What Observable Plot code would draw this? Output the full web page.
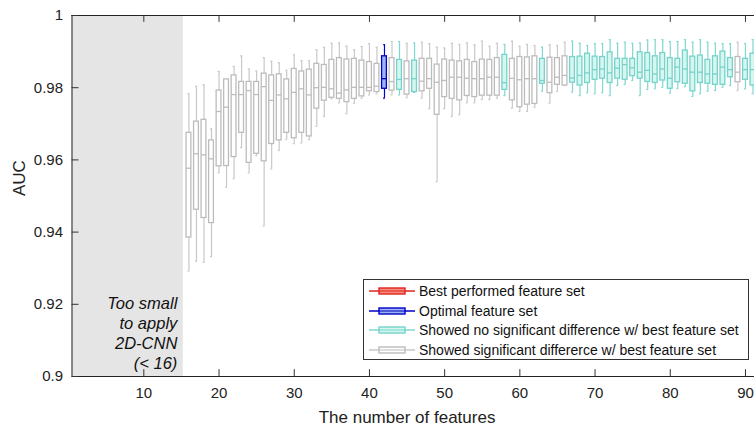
<!DOCTYPE html>
<html>
<head>
<meta charset="utf-8">
<script src="https://cdn.jsdelivr.net/npm/d3@7"></script>
<script src="https://cdn.jsdelivr.net/npm/@observablehq/plot@0.6"></script>
<style>
  body { margin: 0; background: #fff; }
  #wrap { position: relative; width: 754px; height: 425px; overflow: hidden; font-family: "Liberation Sans", Arial, Helvetica, sans-serif; }
  #legend { position: absolute; left: 363px; top: 279px; width: 386px; height: 81px; border: 1px solid #333; background: #fff; box-sizing: border-box; }
  .row { position: absolute; left: 4px; height: 20px; display: flex; align-items: center; font-size: 14px; color: #111; white-space: nowrap; }
  .row svg { margin-right: 3px; }
</style>
</head>
<body>
<div id="wrap"></div>
<script>
const features = [16,17,18,19,20,21,22,23,24,25,26,27,28,29,30,31,32,33,34,35,36,37,38,39,40,41,42,43,44,45,46,47,48,49,50,51,52,53,54,55,56,57,58,59,60,61,62,63,64,65,66,67,68,69,70,71,72,73,74,75,76,77,78,79,80,81,82,83,84,85,86,87,88,89,90,91];
const whiskerHigh = [0.9783,0.9804,0.9808,0.9686,0.9845,0.9823,0.9859,0.9888,0.9852,0.9846,0.9883,0.9873,0.9869,0.9848,0.9891,0.9875,0.9875,0.9905,0.9912,0.9923,0.9924,0.9915,0.9905,0.9914,0.9922,0.9912,0.9919,0.9928,0.9928,0.9923,0.9924,0.9926,0.9922,0.9912,0.9910,0.9923,0.9920,0.9924,0.9919,0.9929,0.9915,0.9923,0.9920,0.9929,0.9915,0.9920,0.9917,0.9912,0.9919,0.9917,0.9926,0.9929,0.9923,0.9917,0.9922,0.9922,0.9933,0.9923,0.9926,0.9923,0.9924,0.9932,0.9933,0.9933,0.9928,0.9928,0.9933,0.9926,0.9933,0.9926,0.9923,0.9922,0.9922,0.9926,0.9922,0.9933];
const quartile3 = [0.9675,0.9706,0.9711,0.9654,0.9792,0.9823,0.9834,0.9816,0.9816,0.9816,0.9839,0.9834,0.9837,0.9823,0.9852,0.9845,0.9850,0.9866,0.9863,0.9877,0.9882,0.9878,0.9880,0.9875,0.9871,0.9866,0.9887,0.9882,0.9877,0.9873,0.9875,0.9880,0.9880,0.9864,0.9878,0.9875,0.9873,0.9877,0.9871,0.9878,0.9877,0.9882,0.9891,0.9880,0.9885,0.9884,0.9887,0.9880,0.9883,0.9882,0.9887,0.9885,0.9886,0.9894,0.9886,0.9885,0.9898,0.9880,0.9880,0.9880,0.9898,0.9896,0.9887,0.9896,0.9882,0.9880,0.9903,0.9886,0.9889,0.9877,0.9887,0.9900,0.9882,0.9885,0.9880,0.9894];
const medians = [0.9577,0.9617,0.9614,0.9603,0.9734,0.9746,0.9781,0.9781,0.9792,0.9781,0.9803,0.9765,0.9780,0.9769,0.9787,0.9797,0.9780,0.9800,0.9801,0.9797,0.9785,0.9794,0.9801,0.9801,0.9801,0.9804,0.9825,0.9817,0.9823,0.9825,0.9825,0.9818,0.9825,0.9815,0.9820,0.9829,0.9829,0.9826,0.9825,0.9825,0.9829,0.9829,0.9814,0.9826,0.9822,0.9825,0.9825,0.9820,0.9815,0.9829,0.9834,0.9827,0.9834,0.9841,0.9850,0.9852,0.9841,0.9854,0.9864,0.9855,0.9843,0.9848,0.9838,0.9852,0.9826,0.9857,0.9852,0.9843,0.9843,0.9838,0.9838,0.9857,0.9850,0.9843,0.9850,0.9850];
const quartile1 = [0.9385,0.9462,0.9439,0.9425,0.9582,0.9583,0.9608,0.9675,0.9592,0.9617,0.9596,0.9644,0.9654,0.9675,0.9660,0.9675,0.9665,0.9742,0.9764,0.9772,0.9769,0.9760,0.9769,0.9776,0.9790,0.9788,0.9797,0.9792,0.9794,0.9781,0.9788,0.9790,0.9797,0.9725,0.9774,0.9769,0.9765,0.9777,0.9774,0.9778,0.9778,0.9778,0.9794,0.9765,0.9746,0.9753,0.9755,0.9811,0.9785,0.9808,0.9806,0.9814,0.9806,0.9813,0.9822,0.9825,0.9813,0.9825,0.9822,0.9832,0.9825,0.9816,0.9813,0.9820,0.9797,0.9815,0.9811,0.9790,0.9813,0.9811,0.9808,0.9808,0.9829,0.9815,0.9822,0.9806];
const whiskerLow = [0.9292,0.9319,0.9316,0.9332,0.9564,0.9524,0.9548,0.9634,0.9564,0.9612,0.9417,0.9575,0.9626,0.9657,0.9645,0.9647,0.9656,0.9693,0.9720,0.9769,0.9758,0.9728,0.9757,0.9771,0.9780,0.9783,0.9771,0.9780,0.9780,0.9772,0.9787,0.9771,0.9742,0.9540,0.9742,0.9720,0.9725,0.9758,0.9758,0.9767,0.9767,0.9771,0.9778,0.9743,0.9734,0.9734,0.9746,0.9790,0.9757,0.9790,0.9806,0.9788,0.9778,0.9786,0.9783,0.9786,0.9778,0.9806,0.9809,0.9820,0.9778,0.9795,0.9797,0.9801,0.9785,0.9797,0.9803,0.9776,0.9783,0.9790,0.9792,0.9801,0.9806,0.9792,0.9797,0.9783];
const optimalFeatures = [42];
const noSigFeatures = [44,46,58,63,67,68,69,70,71,72,73,74,75,76,77,78,79,80,81,82,83,84,85,86,87,88,90,91];
const xTicks = [10,20,30,40,50,60,70,80,90];
const yTicks = [0.9,0.92,0.94,0.96,0.98,1];
const yTickLabels = ["0.9","0.92","0.94","0.96","0.98","1"];
const shadedRange = [0.45, 15.25];
const noteText = ["Too small","to apply","2D-CNN","(< 16)"];
const legendLabels = ["Best performed feature set","Optimal feature set","Showed no significant difference w/ best feature set","Showed significant differerce w/ best feature set"];

const styles = {
  best:  {stroke: "#e2231a", fill: "#f48a80", whisker: "#e2231a"},
  opt:   {stroke: "#0000c8", fill: "#9db4f0", whisker: "#0000c8"},
  nosig: {stroke: "#74d3ca", fill: "#d6f7f0", whisker: "#7fd8cf"},
  sig:   {stroke: "#bcbcbc", fill: "#ffffff", whisker: "#c8c8c8"}
};

const data = features.map((f, i) => ({
  x: f,
  lo: whiskerLow[i], q1: quartile1[i], med: medians[i], q3: quartile3[i], hi: whiskerHigh[i],
  group: optimalFeatures.includes(f) ? "opt" : noSigFeatures.includes(f) ? "nosig" : "sig"
}));

const halfBox = 0.32, halfCap = 0.13;
const xDomain = [0.45, 91.2], yDomain = [0.9, 1];
const tickLenY = 0.0019;   // inward tick length along y (about 7 px)
const tickLenX = 0.93;     // inward tick length along x (about 7 px)
const font = "'Liberation Sans', Arial, Helvetica, sans-serif";

const chart = Plot.plot({
  width: 754,
  height: 425,
  marginLeft: 71.5,
  marginRight: 0,
  marginTop: 15,
  marginBottom: 49,
  x: {domain: xDomain},
  y: {domain: yDomain},
  style: {fontFamily: font, fontSize: "15px", background: "#fff", color: "#222"},
  marks: [
    Plot.rect([shadedRange], {x1: d => d[0], x2: d => d[1], y1: yDomain[0], y2: yDomain[1], fill: "#e5e5e5"}),
    Plot.text([noteText.join("\n")], {x: shadedRange[1], y: yDomain[0], text: d => d, textAnchor: "end", lineAnchor: "bottom", lineHeight: 1.21, dx: -6, dy: -8, fontStyle: "italic", fontSize: 16.5, fill: "#111"}),
    Plot.ruleX(data, {x: "x", y1: "lo", y2: "q1", stroke: d => styles[d.group].whisker, strokeWidth: 1.2}),
    Plot.ruleX(data, {x: "x", y1: "q3", y2: "hi", stroke: d => styles[d.group].whisker, strokeWidth: 1.2}),
    Plot.ruleY(data, {y: "lo", x1: d => d.x - halfCap, x2: d => d.x + halfCap, stroke: d => styles[d.group].whisker, strokeWidth: 1.2}),
    Plot.ruleY(data, {y: "hi", x1: d => d.x - halfCap, x2: d => d.x + halfCap, stroke: d => styles[d.group].whisker, strokeWidth: 1.2}),
    Plot.rect(data, {x1: d => d.x - halfBox, x2: d => d.x + halfBox, y1: "q1", y2: "q3", fill: d => styles[d.group].fill, stroke: d => styles[d.group].stroke, strokeWidth: 1.3}),
    Plot.ruleY(data, {y: "med", x1: d => d.x - halfBox, x2: d => d.x + halfBox, stroke: d => styles[d.group].stroke, strokeWidth: 1.3}),
    // axis box lines
    Plot.ruleY(yDomain, {stroke: "#222", strokeWidth: 1}),
    Plot.ruleX([xDomain[0]], {stroke: "#222", strokeWidth: 1}),
    // inward ticks (bottom, top, left)
    Plot.ruleX(xTicks, {x: d => d, y1: yDomain[0], y2: yDomain[0] + tickLenY, stroke: "#333", strokeWidth: 1}),
    Plot.ruleX(xTicks, {x: d => d, y1: yDomain[1], y2: yDomain[1] - tickLenY, stroke: "#333", strokeWidth: 1}),
    Plot.ruleY(yTicks, {y: d => d, x1: xDomain[0], x2: xDomain[0] + tickLenX, stroke: "#333", strokeWidth: 1}),
    // tick labels
    Plot.axisX({anchor: "bottom", ticks: xTicks, tickSize: 0, tickPadding: 11, fontSize: 15, fill: "#222", label: null}),
    Plot.axisY({anchor: "left", ticks: yTicks, tickSize: 0, tickPadding: 9, fontSize: 15, fill: "#222", tickFormat: (d) => yTickLabels[yTicks.indexOf(d)] ?? "", label: null}),
    Plot.text(["The number of features"], {frameAnchor: "bottom", x: 45.0, dy: 46, text: d => d, fontSize: 17, fill: "#222", lineAnchor: "bottom"}),
    Plot.text(["AUC"], {frameAnchor: "left", dx: -52, text: d => d, fontSize: 17, fill: "#222", rotate: -90})
  ]
});

const wrap = document.getElementById("wrap");
wrap.appendChild(chart);

// Legend
const legend = document.createElement("div");
legend.id = "legend";
const keys = ["best", "opt", "nosig", "sig"];
keys.forEach((k, i) => {
  const row = document.createElement("div");
  row.className = "row";
  row.style.top = (1 + i * 19.6) + "px";
  const s = styles[k];
  row.innerHTML = `<svg width="48" height="12"><line x1="1" x2="47" y1="6" y2="6" stroke="${s.whisker}" stroke-width="1.3"/><rect x="11" y="3" width="26" height="6" fill="${s.fill}" stroke="${s.stroke}" stroke-width="1.4"/><line x1="11" x2="37" y1="6" y2="6" stroke="${s.stroke}" stroke-width="1"/></svg><span>${legendLabels[i]}</span>`;
  legend.appendChild(row);
});
wrap.appendChild(legend);
</script>
</body>
</html>
